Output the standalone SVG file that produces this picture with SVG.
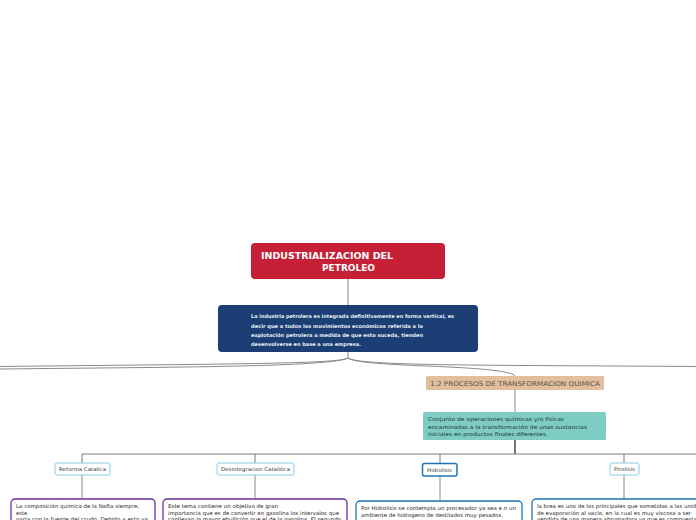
<svg xmlns="http://www.w3.org/2000/svg" width="696" height="520" viewBox="0 0 696 520">
<style>
.t{font-family:"DejaVu Sans",Verdana,sans-serif}
.c{fill:none;stroke:#8a8a8a;stroke-width:1}
.c2{fill:none;stroke:#7a7a7a;stroke-width:1}
.sm{fill:#fff;stroke:#8cc8e2;stroke-width:1}
.smt{font-size:5px;fill:#333}
.bt{font-size:5.2px;fill:#222}
.pur{fill:#fff;stroke:#6a2ea0;stroke-width:1.3}
.blu{fill:#fff;stroke:#1c76b8;stroke-width:1.3}
</style>
<rect width="696" height="520" fill="#fff"/>
<g id="connectors">
<path class="c" d="M348,279 V305"/>
<path class="c" d="M348,352 V358"/>
<path class="c" d="M348,358 C340,364 220,364 0,366.5"/>
<path class="c" d="M348,358 C330,367 180,367 0,369"/>
<path class="c" d="M348,358 C360,366 480,365 696,366.5"/>
<path class="c" d="M348,358 C360,368 505,364 515,376"/>
<path class="c" d="M515,390 V412"/>
<path fill="none" stroke="#555" stroke-width="1.6" d="M515,440 V454"/>
<path class="c2" d="M82,463 V454 H696"/>
<path class="c2" d="M255,454 V463"/>
<path class="c2" d="M440,454 V463"/>
<path class="c2" d="M624,454 V463"/>
<path class="c" d="M82,475 V499"/>
<path class="c" d="M255,475 V499"/>
<path class="c" d="M440,476 V501"/>
<path class="c" d="M624,475 V499"/>
</g>
<g id="title">
<rect x="251" y="243" width="194" height="36" rx="4" fill="#c71f36"/>
<text class="t" x="261" y="259" font-size="8.6" font-weight="bold" fill="#fff" textLength="132" lengthAdjust="spacingAndGlyphs">INDUSTRIALIZACION DEL</text>
<text class="t" x="322" y="271" font-size="8.6" font-weight="bold" fill="#fff" textLength="53" lengthAdjust="spacingAndGlyphs">PETROLEO</text>
</g>
<g id="intro">
<rect x="218" y="305" width="260" height="47" rx="4" fill="#1b3f74"/>
<g class="t" font-size="5" font-weight="bold" fill="#e8edf5">
<text x="251" y="318" textLength="203" lengthAdjust="spacingAndGlyphs">La industria petrolera es integrada definitivamente en forma vertical, es</text>
<text x="251" y="327.5" textLength="172" lengthAdjust="spacingAndGlyphs">decir que a todos los movimientos  económicos referida a la</text>
<text x="251" y="337" textLength="172" lengthAdjust="spacingAndGlyphs">explotación petrolera  a medida de que esto suceda, tienden</text>
<text x="251" y="346" textLength="110" lengthAdjust="spacingAndGlyphs">desenvolverse en base a una empresa.</text>
</g>
</g>
<g id="procesos">
<rect x="426" y="376" width="178" height="14" rx="1.5" fill="#e2be9c"/>
<text class="t" x="430" y="385.5" font-size="6.5" fill="#555" textLength="170" lengthAdjust="spacingAndGlyphs">1.2 PROCESOS DE TRANSFORMACION QUIMICA</text>
</g>
<g id="conjunto">
<rect x="423" y="412" width="183" height="28" rx="1.5" fill="#7ecdc3"/>
<g class="t" font-size="5.2" fill="#1e2e2c">
<text x="428" y="421" textLength="136" lengthAdjust="spacingAndGlyphs">Conjunto de operaciones químicas y/o físicas</text>
<text x="428" y="428.5" textLength="159" lengthAdjust="spacingAndGlyphs">encaminadas a la transformación de unas sustancias</text>
<text x="428" y="436" textLength="120" lengthAdjust="spacingAndGlyphs">iniciales en productos finales diferentes.</text>
</g>
</g>
<g id="reforma">
<rect class="sm" x="55" y="463" width="55" height="12" rx="2"/>
<text class="t smt" x="59" y="471" textLength="47" lengthAdjust="spacingAndGlyphs">Reforma Catalica</text>
</g>
<g id="desintegracion">
<rect class="sm" x="217" y="463" width="77" height="12" rx="2"/>
<text class="t smt" x="221" y="471" textLength="69" lengthAdjust="spacingAndGlyphs">Desintegracion Catalitica</text>
</g>
<g id="hidrolisis">
<rect x="422.5" y="463.5" width="34.5" height="12.5" rx="2" fill="#fff" stroke="#1c76b8" stroke-width="1.5"/>
<text class="t smt" x="427" y="471.5" textLength="25" lengthAdjust="spacingAndGlyphs">Hidrolisis</text>
</g>
<g id="pirolisis">
<rect class="sm" x="610" y="463" width="29" height="12" rx="2"/>
<text class="t smt" x="614" y="471" textLength="21" lengthAdjust="spacingAndGlyphs">Pirolisis</text>
</g>
<g id="nafta">
<rect class="pur" x="11" y="499" width="144" height="40" rx="4"/>
<g class="t bt">
<text x="16" y="508" textLength="123" lengthAdjust="spacingAndGlyphs">La composición química de la Nafta siempre,</text>
<text x="16" y="514.5">este</text>
<text x="16" y="521" textLength="132" lengthAdjust="spacingAndGlyphs">varia con la fuente  del crudo. Debido a esto va</text>
</g>
</g>
<g id="gasolina">
<rect class="pur" x="163" y="499" width="184" height="40" rx="4"/>
<g class="t bt">
<text x="168" y="508" textLength="110" lengthAdjust="spacingAndGlyphs">Este tema contiene un objetivo de gran</text>
<text x="168" y="514.5" textLength="171" lengthAdjust="spacingAndGlyphs">importancia que es de convertir en gasolina los intervalos que</text>
<text x="168" y="521" textLength="173" lengthAdjust="spacingAndGlyphs">conllevan la mayor ebullición que el de la gasolina. El segundo</text>
</g>
</g>
<g id="hidrogeno">
<rect class="blu" x="356" y="501" width="166" height="40" rx="4"/>
<g class="t bt">
<text x="361" y="510" textLength="155" lengthAdjust="spacingAndGlyphs">Por Hidrolisis se contempla un procesador ya sea e.n un</text>
<text x="361" y="516.5" textLength="142" lengthAdjust="spacingAndGlyphs">ambiente de hidrogeno de destilados muy pesados.</text>
</g>
</g>
<g id="brea">
<rect class="blu" x="532" y="499" width="170" height="40" rx="4"/>
<g class="t bt">
<text x="537" y="508" textLength="172" lengthAdjust="spacingAndGlyphs">la brea es uno de los principales que sometidas a las unidades</text>
<text x="537" y="514.5" textLength="154" lengthAdjust="spacingAndGlyphs">de evaporación al vacio, en la cual es muy viscosa a ser</text>
<text x="537" y="521" textLength="160" lengthAdjust="spacingAndGlyphs">vendida de una manera abrumadora ya que es compuesta</text>
</g>
</g>
</svg>
